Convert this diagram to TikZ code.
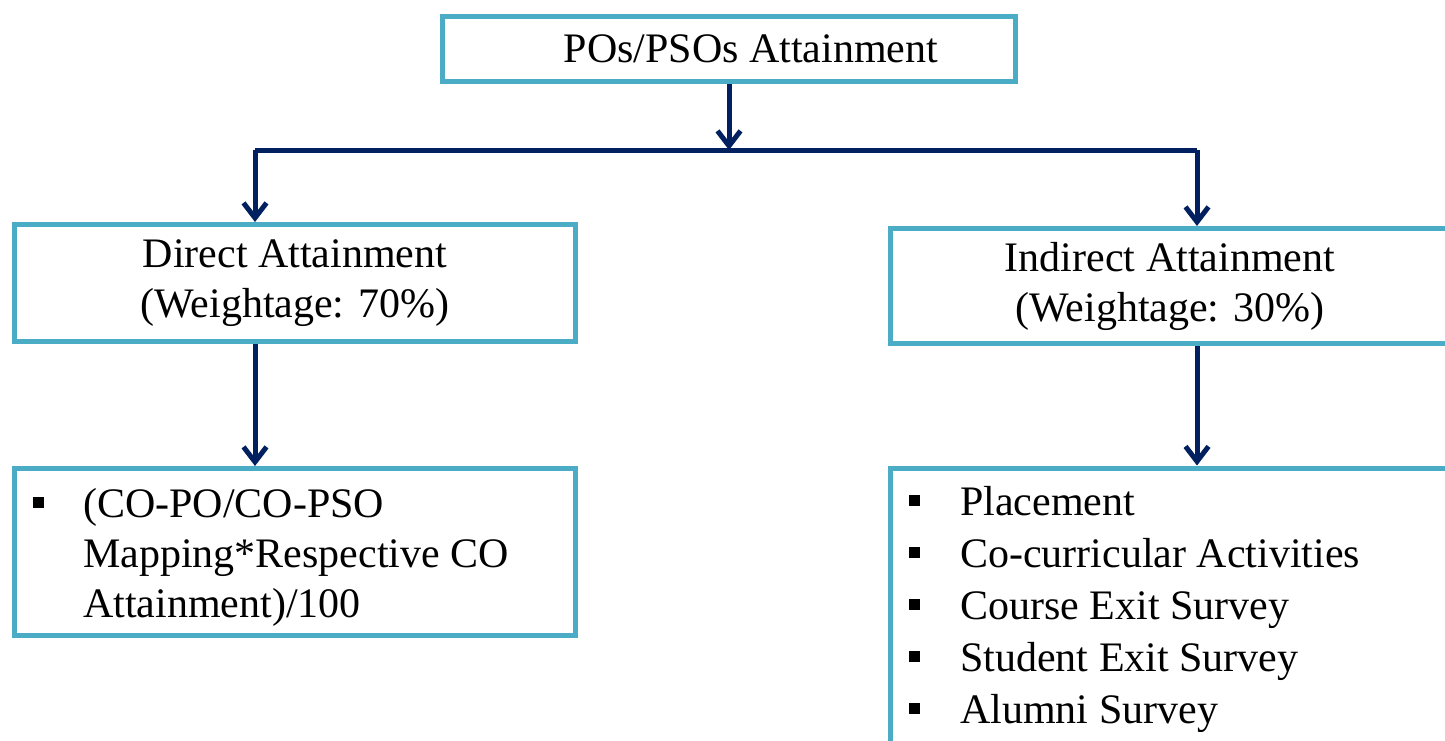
\documentclass[tikz,border=0pt]{standalone}
\usepackage{fontspec}
\setmainfont{Liberation Serif}
\usetikzlibrary{arrows.meta,calc}
\definecolor{boxline}{HTML}{4BACC6}
\definecolor{linknavy}{HTML}{002060}
% small filled square used as list bullet
\newcommand{\sqbullet}{\raisebox{9pt}{\rule{11pt}{11pt}}}
\begin{document}
\begin{tikzpicture}[x=1pt,y=-1pt,
  box/.style={draw=boxline, line width=5pt, fill=white, inner sep=0pt,
    font=\fontsize{42}{50}\selectfont, align=center},
  link/.style={draw=linknavy, line width=5pt},
  flow/.style={link, -{Straight Barb[length=15pt,width=23pt]}},
  listtext/.style={anchor=base west, inner sep=0pt}
]
\useasboundingbox[fill=white] (0,0) rectangle (1445,740);

% boxes
\node[box, minimum width=573pt, minimum height=65pt] (top) at (729,49)
  {\hspace*{44pt}POs/PSOs Attainment};
\node[box, minimum width=561pt, minimum height=117pt] (direct) at (295,283)
  {Direct Attainment\\(Weightage: 70\%)};
\node[box, minimum width=560pt, minimum height=115pt] (indirect) at (1170,286)
  {Indirect Attainment\\(Weightage: 30\%)};
\node[box, minimum width=561pt, minimum height=167pt] (dmethod) at (295,552) {};
\node[box, minimum width=560pt, minimum height=280pt] (imethod) at (1170,608) {};

% box contents
\node[listtext, font=\fontsize{42}{50}\selectfont] (dmethodtext) at (33,517)
  {\begin{tabular}[t]{@{}p{50pt}@{}l@{}}
    \sqbullet & (CO-PO/CO-PSO\\
              & Mapping*Respective CO\\
              & Attainment)/100
   \end{tabular}};
\node[listtext, font=\fontsize{42}{52}\selectfont] (imethodtext) at (909,515)
  {\begin{tabular}[t]{@{}p{51pt}@{}l@{}}
    \sqbullet & Placement\\
    \sqbullet & Co-curricular Activities\\
    \sqbullet & Course Exit Survey\\
    \sqbullet & Student Exit Survey\\
    \sqbullet & Alumni Survey
   \end{tabular}};

% connectors
\coordinate (split) at (729,150);
\coordinate (lbranch) at (255,150);
\coordinate (rbranch) at (1197,150);
\draw[link] (lbranch) -- (rbranch);
\draw[flow] (top.south) -- (split);
\draw[flow] (lbranch) -- (lbranch |- direct.north);
\draw[flow] (rbranch) -- (rbranch |- indirect.north);
\draw[flow] (direct.south -| lbranch) -- (dmethod.north -| lbranch);
\draw[flow] (indirect.south -| rbranch) -- (imethod.north -| rbranch);
\end{tikzpicture}
\end{document}
